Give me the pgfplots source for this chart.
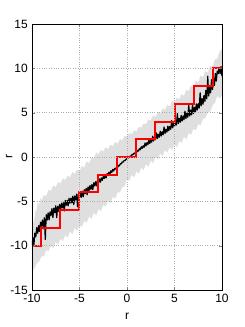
\documentclass[border=0pt]{standalone}
\usepackage{pgfplots}
\pgfplotsset{compat=1.18}
\usepackage{fontspec}
\setmainfont{Liberation Sans}
\begin{document}
\fontsize{12}{14}\selectfont
\begin{tikzpicture}
\path[use as bounding box] (-32pt,-37pt) rectangle (213pt,290pt);
\begin{axis}[
  scale only axis, width=190pt, height=266pt,
  xmin=-10, xmax=10, ymin=-15, ymax=15,
  xtick={-10,-5,...,10}, ytick={-15,-10,...,15},
  grid=major, major grid style={dotted, gray!65, line width=0.5pt},
  tick align=inside, tickpos=both, major tick length=3pt,
  xlabel={r}, ylabel={r},
  tick label style={font=\fontsize{12}{14}\selectfont},
  label style={font=\fontsize{12}{14}\selectfont},
  ylabel style={at={(axis description cs:-0.12,0.5)}, anchor=center},
  xlabel style={yshift=-2pt},
  /pgf/number format/assume math mode=true,
  axis line style={black, line width=0.6pt},
  axis on top,
]
% grey band
\addplot[fill=gray!25, draw=none] coordinates {
(-10,-8.6) (-9.9,-7.6) (-9.75,-7.0) (-9.6,-5.8) (-9.5,-6.2) (-9.4,-5.0) (-9.25,-5.4) (-9.1,-4.6) (-9,-4.9) (-8.75,-4.3) (-8.5,-4.4) (-8.25,-3.7) (-8,-3.8) (-7.75,-3.2) (-7.5,-3.4) (-7.25,-2.8) (-7,-3.0) (-6.75,-2.4) (-6.5,-2.6) (-6.25,-2.1) (-6,-2.3) (-5.75,-1.7) (-5.5,-1.9) (-5.25,-1.4) (-5,-1.6) (-4.75,-1.0) (-4.5,-1.2) (-4.25,-0.5) (-4,-0.7) (-3.75,-0.1) (-3.5,-0.2) (-3.25,0.5) (-3,0.3) (-2.75,0.8) (-2.5,0.6) (-2.25,1.1) (-2,0.9) (-1.75,1.4) (-1.5,1.2) (-1.25,1.7) (-1,1.5) (-0.75,2.0) (-0.5,1.9) (-0.25,2.4) (0,2.3) (0.25,2.7) (0.5,2.6) (0.75,3.0) (1,2.9) (1.25,3.4) (1.5,3.3) (1.75,3.8) (2,3.7) (2.25,4.2) (2.5,4.1) (2.75,4.7) (3,4.5) (3.25,5.1) (3.5,4.9) (3.75,5.5) (4,5.3) (4.25,5.9) (4.5,5.7) (4.75,6.4) (5,6.1) (5.25,6.7) (5.5,6.5) (5.75,7.1) (6,6.9) (6.25,7.6) (6.5,7.4) (6.75,8.1) (7,7.8) (7.25,8.6) (7.5,8.4) (7.75,9.2) (8,9.0) (8.25,9.7) (8.5,9.5) (8.75,10.3) (9,10.2) (9.25,11.0) (9.5,11.1) (9.75,11.9) (10,12.2)
(10,7.0) (9.75,6.6) (9.5,6.9) (9.25,6.1) (9,5.8) (8.75,5.1) (8.5,5.0) (8.25,4.4) (8,4.3) (7.75,3.6) (7.5,3.7) (7.25,3.0) (7,3.2) (6.75,2.5) (6.5,2.7) (6.25,2.0) (6,2.3) (5.75,1.6) (5.5,1.8) (5.25,1.1) (5,1.4) (4.75,0.8) (4.5,1.1) (4.25,0.5) (4,0.8) (3.75,0.1) (3.5,0.4) (3.25,-0.3) (3,0.0) (2.75,-0.7) (2.5,-0.4) (2.25,-1.1) (2,-0.8) (1.75,-1.5) (1.5,-1.2) (1.25,-1.9) (1,-1.6) (0.75,-2.3) (0.5,-2.0) (0.25,-2.7) (0,-2.5) (-0.25,-3.3) (-0.5,-3.4) (-0.75,-4.0) (-1,-4.0) (-1.25,-4.7) (-1.5,-4.5) (-1.75,-5.2) (-2,-5.0) (-2.25,-5.6) (-2.5,-5.4) (-2.75,-6.1) (-3,-5.9) (-3.25,-6.6) (-3.5,-6.3) (-3.75,-7.0) (-4,-6.7) (-4.25,-7.4) (-4.5,-7.2) (-4.75,-7.9) (-5,-7.7) (-5.25,-8.3) (-5.5,-8.0) (-5.75,-8.7) (-6,-8.4) (-6.25,-9.1) (-6.5,-8.8) (-6.75,-9.5) (-7,-9.2) (-7.25,-9.9) (-7.5,-9.6) (-7.75,-10.3) (-8,-10.0) (-8.25,-10.6) (-8.5,-10.5) (-8.75,-11.2) (-9,-11.2) (-9.25,-11.8) (-9.5,-12.0) (-9.75,-12.6) (-10,-12.8)
} -- cycle;
% black noisy curve
\addplot[black, line width=1.2pt, line join=round] coordinates {
(-10.0,-9.9) (-9.9,-9.1) (-9.8,-9.9) (-9.7,-8.6) (-9.6,-9.0) (-9.5,-7.95) (-9.4,-8.6) (-9.3,-7.75) (-9.2,-8.4) (-9.1,-7.35)
(-9.0,-7.8) (-8.9,-7.1) (-8.8,-8.1) (-8.7,-6.85) (-8.6,-9.3) (-8.5,-6.5) (-8.4,-7.1) (-8.3,-6.3) (-8.2,-7.1) (-8.1,-6.2)
(-8.0,-6.6) (-7.9,-5.82) (-7.8,-6.84) (-7.7,-5.76) (-7.6,-6.28) (-7.5,-5.5) (-7.4,-6.84) (-7.3,-5.58) (-7.2,-6.12) (-7.1,-5.36)
(-7.0,-6.1) (-6.9,-5.22) (-6.8,-5.74) (-6.7,-5.16) (-6.6,-6.08) (-6.5,-4.9) (-6.4,-5.44) (-6.3,-4.88) (-6.2,-5.52) (-6.1,-4.66)
(-6.0,-5.2) (-5.9,-4.64) (-5.8,-5.18) (-5.7,-4.42) (-5.6,-5.36) (-5.5,-4.4) (-5.4,-4.84) (-5.3,-4.18) (-5.2,-5.62) (-5.1,-4.16)
(-5.0,-4.6) (-4.9,-4.02) (-4.8,-4.54) (-4.7,-3.86) (-4.6,-4.48) (-4.5,-3.7) (-4.4,-4.12) (-4.3,-3.54) (-4.2,-4.26) (-4.1,-3.38)
(-4.0,-3.8) (-3.9,-3.22) (-3.8,-3.64) (-3.7,-3.11) (-3.6,-3.68) (-3.5,-2.9) (-3.4,-3.27) (-3.3,-2.79) (-3.2,-3.26) (-3.1,-2.63)
(-3.0,-2.9) (-2.9,-2.47) (-2.8,-2.84) (-2.7,-2.36) (-2.6,-2.63) (-2.5,-2.2) (-2.4,-2.42) (-2.3,-2.04) (-2.2,-2.36) (-2.1,-1.88)
(-2.0,-2.05) (-1.9,-1.72) (-1.8,-1.94) (-1.7,-1.56) (-1.6,-1.73) (-1.5,-1.4) (-1.4,-1.57) (-1.3,-1.29) (-1.2,-1.36) (-1.1,-1.13)
(-1.0,-1.2) (-0.9,-0.95) (-0.8,-1.0) (-0.7,-0.75) (-0.6,-0.78) (-0.5,-0.55) (-0.4,-0.57) (-0.3,-0.39) (-0.2,-0.41) (-0.1,-0.24)
(0.0,-0.2) (0.1,-0.07) (0.2,-0.08) (0.3,0.09) (0.4,0.08) (0.5,0.26) (0.6,0.23) (0.7,0.42) (0.8,0.36) (0.9,0.58)
(1.0,0.5) (1.1,0.75) (1.2,0.66) (1.3,0.94) (1.4,0.82) (1.5,1.15) (1.6,0.98) (1.7,1.26) (1.8,1.09) (1.9,1.57)
(2.0,1.25) (2.1,1.62) (2.2,1.39) (2.3,1.91) (2.4,1.53) (2.5,1.9) (2.6,1.67) (2.7,2.34) (2.8,1.81) (2.9,2.23)
(3.0,1.95) (3.1,2.72) (3.2,2.09) (3.3,2.56) (3.4,2.23) (3.5,2.9) (3.6,2.37) (3.7,2.84) (3.8,2.51) (3.9,3.38)
(4.0,2.65) (4.1,3.13) (4.2,2.81) (4.3,3.49) (4.4,2.97) (4.5,3.45) (4.6,3.13) (4.7,4.11) (4.8,3.29) (4.9,3.77)
(5.0,3.45) (5.1,4.13) (5.2,3.61) (5.3,4.89) (5.4,3.77) (5.5,4.35) (5.6,3.92) (5.7,4.69) (5.8,4.06) (5.9,4.63)
(6.0,4.2) (6.1,5.17) (6.2,4.34) (6.3,4.91) (6.4,4.48) (6.5,5.85) (6.6,4.62) (6.7,5.29) (6.8,4.76) (6.9,5.93)
(7.0,4.9) (7.1,5.6) (7.2,5.1) (7.3,6.0) (7.4,5.3) (7.5,6.0) (7.6,5.52) (7.7,7.24) (7.8,5.76) (7.9,6.58)
(8.0,5.95) (8.1,6.94) (8.2,6.28) (8.3,7.52) (8.4,6.56) (8.5,9.1) (8.6,6.88) (8.7,7.96) (8.8,7.24) (8.9,8.72)
(9.0,7.6) (9.1,8.84) (9.2,8.08) (9.3,9.42) (9.4,8.56) (9.5,9.7) (9.6,9.4) (9.7,10.1) (9.8,9.4) (9.9,10.2) (10.0,9.1)
};
% red staircase
\addplot[red, line width=2pt, line join=miter] coordinates {
(-10,-10) (-9,-10) (-9,-8) (-7,-8) (-7,-6) (-5,-6) (-5,-4) (-3,-4) (-3,-2) (-1,-2) (-1,0) (1,0) (1,2) (3,2) (3,4) (5,4) (5,6) (7,6) (7,8) (9,8) (9,10) (10,10)
};
\end{axis}
\end{tikzpicture}
\end{document}
